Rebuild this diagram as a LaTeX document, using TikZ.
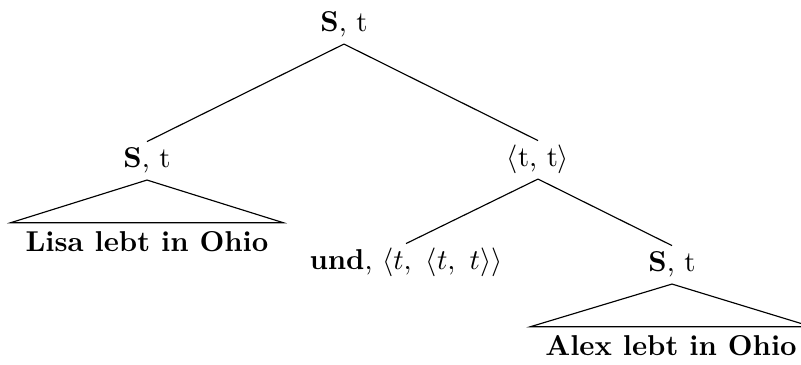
\documentclass[tikz,border=0pt]{standalone}
\usepackage{tikz}
\usetikzlibrary{positioning}
\tikzset{
  node-cat/.style={inner xsep=2pt,inner ysep=2pt,text height=7pt,text depth=2pt,anchor=base},
  node-leaf/.style={inner xsep=5pt,inner ysep=2pt,text height=8pt,text depth=2pt,anchor=base,font=\bfseries},
  edge-line/.style={thin,draw=black},
  edge-roof/.style={thin,draw=black},
}
\begin{document}
\begin{tikzpicture}[x=0.3484pt,y=-0.3484pt]
  \useasboundingbox (0,0) rectangle (801,365);
  \node[node-cat]  (root) at (344,32)  {\textbf{S}, t};
  \node[node-cat]  (s1)   at (147,168) {\textbf{S}, t};
  \node[node-cat]  (tt)   at (538,167) {$\langle$t, t$\rangle$};
  \node[node-leaf] (lisa) at (147,252) {Lisa lebt in Ohio};
  \node[node-cat]  (und)  at (406,270) {\textbf{und}, $\langle t,\ \langle t,\ t\rangle\rangle$};
  \node[node-cat]  (s2)   at (672,272) {\textbf{S}, t};
  \node[node-leaf] (alex) at (671,356) {Alex lebt in Ohio};
  \draw[edge-line] (root.south) -- (s1.north);
  \draw[edge-line] (root.south) -- (tt.north);
  \draw[edge-line] (tt.south) -- (und.north);
  \draw[edge-line] (tt.south) -- (s2.north);
  \draw[edge-roof] (s1.south) -- (lisa.north west) -- (lisa.north east) -- cycle;
  \draw[edge-roof] (s2.south) -- (alex.north west) -- (alex.north east) -- cycle;
\end{tikzpicture}
\end{document}
